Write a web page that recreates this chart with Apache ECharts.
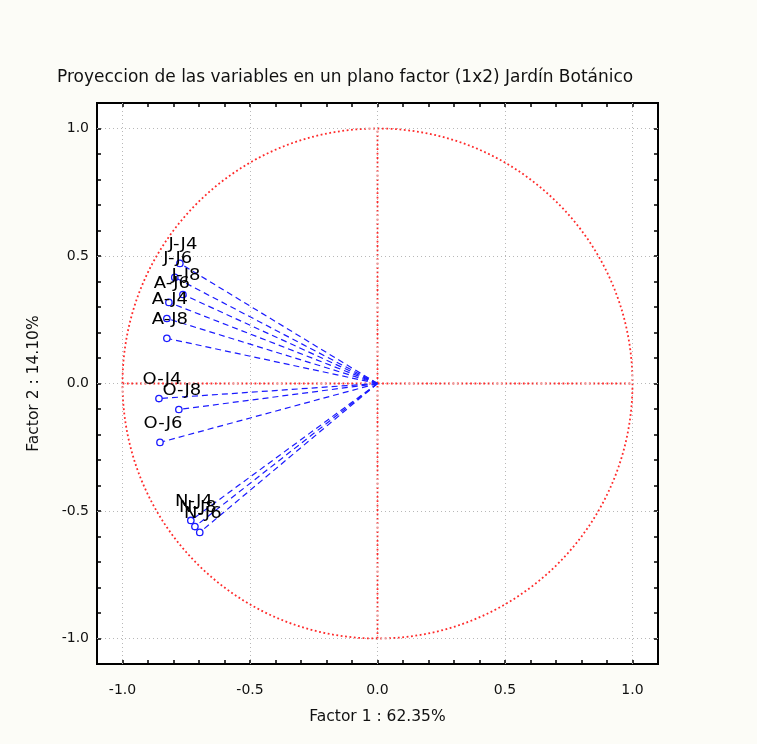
<!DOCTYPE html>
<html>
<head>
<meta charset="utf-8">
<script src="https://cdn.jsdelivr.net/npm/echarts@6/dist/echarts.min.js"></script>
<style>
html,body{margin:0;padding:0;background:#fcfcf7;}
#main{width:757px;height:744px;}
</style>
</head>
<body>
<div id="main"></div>
<script>
var variables = ['J-J4','J-J6','J-J8','A-J6','A-J4','A-J8','O-J4','O-J8','O-J6','N-J4','N-J8','N-J6'];
var factor1 = [-0.775,-0.795,-0.763,-0.818,-0.826,-0.826,-0.857,-0.779,-0.853,-0.732,-0.716,-0.697];
var factor2 = [0.471,0.416,0.349,0.318,0.255,0.177,-0.059,-0.102,-0.231,-0.537,-0.561,-0.584];
var majorTicks = [-1.0,-0.5,0.0,0.5,1.0];
var axisRange = [-1.1, 1.1];

var vectorData = variables.map(function(n,i){ return [factor1[i], factor2[i], n]; });

var chart = echarts.init(document.getElementById('main'));
var FONT = '"DejaVu Sans", Verdana, sans-serif';
function isMajor(v){ return Math.abs(v*2 - Math.round(v*2)) < 1e-6 && Math.abs(v) <= 1.0001; }
function baseAxis(pos, showLabel, name, nameGap){
  return {
    type:'value', position:pos, min:axisRange[0], max:axisRange[1], interval:0.1,
    name: name || '', nameLocation:'middle', nameGap: nameGap || 0,
    nameTextStyle:{color:'#111', fontSize:15.5, fontFamily:FONT},
    axisLine:{show:true, onZero:false, lineStyle:{color:'#000', width:2}},
    axisTick:{show:true, inside:true, length:4, lineStyle:{color:'#000', width:1.5}},
    axisLabel:{show:showLabel, color:'#111', fontSize:14, fontFamily:FONT,
      margin: pos==='bottom'?19:8,
      formatter:function(v){ return isMajor(v) ? v.toFixed(1) : ''; }},
    splitLine:{show:false}
  };
}
var gridLinesX = majorTicks.map(function(v){return {xAxis:v};});
var gridLinesY = majorTicks.map(function(v){return {yAxis:v};});

var option = {
  backgroundColor:'#fcfcf7',
  animation:false,
  title:{text:'Proyeccion de las variables en un plano factor (1x2) Jardín Botánico',
    left:52, top:64, textStyle:{color:'#111', fontSize:17, fontWeight:'normal', fontFamily:FONT}},
  grid:{left:97, right:99, top:103, bottom:80, show:true, backgroundColor:'#ffffff', borderColor:'#000', borderWidth:2},
  xAxis:[baseAxis('bottom', true, 'Factor 1 : 62.35%', 45), baseAxis('top', false)],
  yAxis:[baseAxis('left', true, 'Factor 2 : 14.10%', 55), baseAxis('right', false)],
  series:[
    {type:'line', data:[[0,0]], symbol:'none', silent:true, lineStyle:{opacity:0},
      markLine:{silent:true, symbol:'none', label:{show:false},
        lineStyle:{color:'#b8b8b8', type:[1,3], width:1},
        data: gridLinesX.concat(gridLinesY)}},
    {type:'custom', silent:true, data:[[0,0,1]],
      renderItem:function(params, api){
        var c = api.coord([api.value(0), api.value(1)]);
        var r = api.size([api.value(2), api.value(2)]);
        return {type:'ellipse', shape:{cx:c[0], cy:c[1], rx:r[0], ry:r[1]},
          style:{fill:null, stroke:'#ff2a2a', lineWidth:1.8, lineDash:[1.8,2.6]}};
      }},
    {type:'line', data:[[-1,0],[1,0]], symbol:'none', silent:true,
      lineStyle:{color:'#ff2a2a', width:1.8, type:[1.8,2.6]}},
    {type:'line', data:[[0,-1],[0,1]], symbol:'none', silent:true,
      lineStyle:{color:'#ff2a2a', width:1.8, type:[1.8,2.6]}},
    {type:'custom', silent:true, data:vectorData, z:5,
      renderItem:function(params, api){
        var p0 = api.coord([0,0]);
        var p = api.coord([api.value(0), api.value(1)]);
        return {type:'group', children:[
          {type:'line', shape:{x1:p0[0], y1:p0[1], x2:p[0], y2:p[1]},
            style:{stroke:'#1a1aff', lineWidth:1.2, lineDash:[6,4]}},
          {type:'circle', shape:{cx:p[0], cy:p[1], r:3.2},
            style:{stroke:'#1a1aff', fill:'#ffffff', lineWidth:1.3}}
        ]};
      }},
    {type:'custom', silent:true, data:vectorData, z:6,
      renderItem:function(params, api){
        var p = api.coord([api.value(0), api.value(1)]);
        return {type:'text', x:p[0]+3, y:p[1]-11, scaleX:1.2, scaleY:1,
          style:{text:variables[params.dataIndex], fill:'#000', font:'15px '+FONT, align:'center', verticalAlign:'bottom'}};
      }}
  ]
};
chart.setOption(option);
</script>
</body>
</html>
